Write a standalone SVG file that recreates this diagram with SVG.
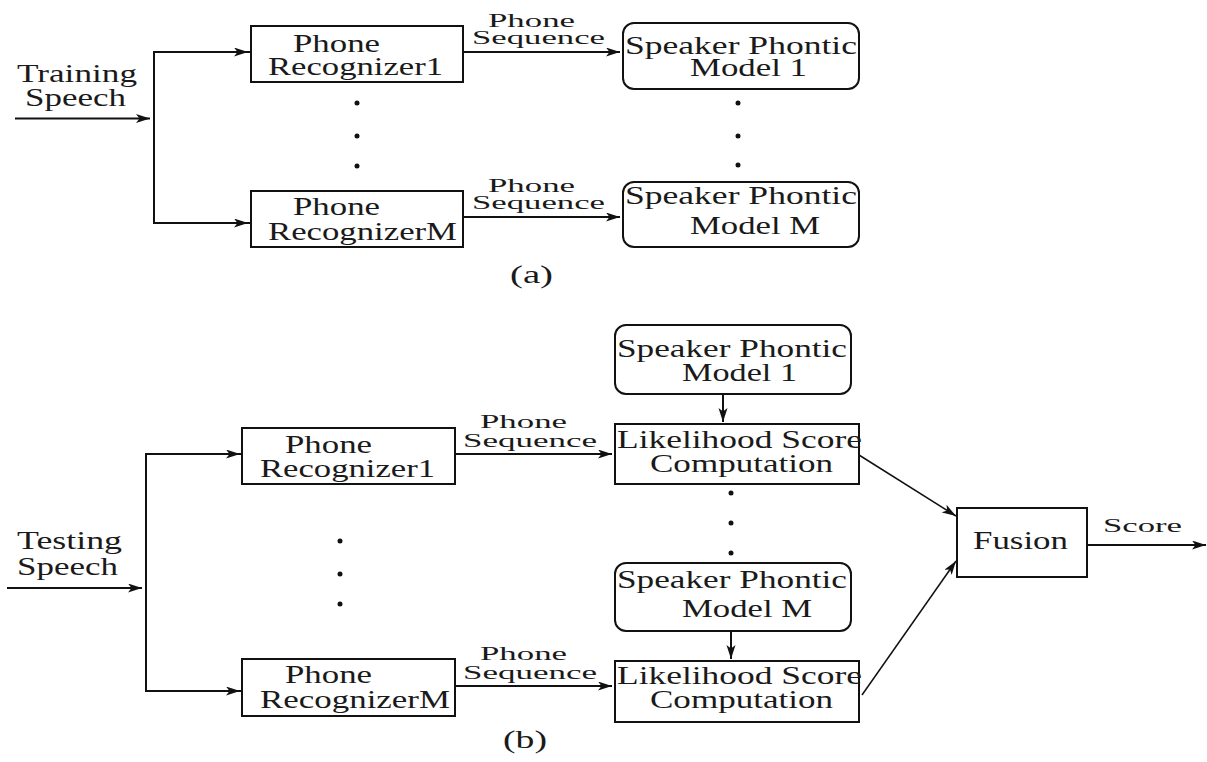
<svg xmlns="http://www.w3.org/2000/svg" width="1207" height="762" viewBox="0 0 1207 762">
<style>
text{font-family:"Liberation Serif","Times New Roman",serif;fill:#1a1a1a}
.b{font-size:25px}
.l{font-size:19px}
.box{fill:#fff;stroke:#111;stroke-width:2}
.ln{fill:none;stroke:#111;stroke-width:2}
.dg{fill:none;stroke:#111;stroke-width:1.5}
.dot{fill:#111}
</style>
<defs>
<marker id="ah" markerUnits="userSpaceOnUse" markerWidth="16" markerHeight="10" refX="14" refY="4.5" orient="auto">
<path d="M0,0 L14,4.5 L0,9 L3.5,4.5 z" fill="#111"/>
</marker>
</defs>
<rect width="1207" height="762" fill="#fff"/>

<g id="connectors">
<!-- (a) -->
<line class="ln" x1="15" y1="118.5" x2="150" y2="118.5" marker-end="url(#ah)"/>
<polyline class="ln" points="250,52 154,52 154,223 250,223"/>
<line class="ln" x1="154" y1="52" x2="248" y2="52" marker-end="url(#ah)"/>
<line class="ln" x1="154" y1="223" x2="248" y2="223" marker-end="url(#ah)"/>
<line class="ln" x1="463" y1="52" x2="620" y2="52" marker-end="url(#ah)"/>
<line class="ln" x1="463" y1="217" x2="620" y2="217" marker-end="url(#ah)"/>
<!-- (b) -->
<line class="ln" x1="7" y1="588" x2="142" y2="588" marker-end="url(#ah)"/>
<polyline class="ln" points="242,454 146,454 146,691 242,691"/>
<line class="ln" x1="146" y1="454" x2="240" y2="454" marker-end="url(#ah)"/>
<line class="ln" x1="146" y1="691" x2="240" y2="691" marker-end="url(#ah)"/>
<line class="ln" x1="455" y1="454" x2="612" y2="454" marker-end="url(#ah)"/>
<line class="ln" x1="455" y1="686" x2="612" y2="686" marker-end="url(#ah)"/>
<line class="ln" x1="723" y1="394" x2="723" y2="422" marker-end="url(#ah)"/>
<line class="ln" x1="731" y1="631" x2="731" y2="659" marker-end="url(#ah)"/>
<line class="dg" x1="859" y1="455" x2="956" y2="516" marker-end="url(#ah)"/>
<line class="dg" x1="862" y1="695" x2="956" y2="561" marker-end="url(#ah)"/>
<line class="ln" x1="1087" y1="545" x2="1206" y2="545" marker-end="url(#ah)"/>
</g>

<g id="training-label">
<text class="b" x="17" y="82" textLength="120" lengthAdjust="spacingAndGlyphs">Training</text>
<text class="b" x="25" y="106" textLength="101" lengthAdjust="spacingAndGlyphs">Speech</text>
</g>
<g id="a-pr1">
<rect class="box" x="251" y="26" width="212" height="56"/>
<text class="b" x="293" y="52" textLength="87" lengthAdjust="spacingAndGlyphs">Phone</text>
<text class="b" x="268" y="75" textLength="175" lengthAdjust="spacingAndGlyphs">Recognizer1</text>
</g>
<g id="a-prm">
<rect class="box" x="251" y="191" width="212" height="56"/>
<text class="b" x="293" y="215" textLength="87" lengthAdjust="spacingAndGlyphs">Phone</text>
<text class="b" x="268" y="240" textLength="189" lengthAdjust="spacingAndGlyphs">RecognizerM</text>
</g>
<g id="a-seq1">
<text class="l" x="488" y="27" textLength="87" lengthAdjust="spacingAndGlyphs">Phone</text>
<text class="l" x="472" y="44" textLength="133" lengthAdjust="spacingAndGlyphs">Sequence</text>
</g>
<g id="a-seqm">
<text class="l" x="488" y="192" textLength="87" lengthAdjust="spacingAndGlyphs">Phone</text>
<text class="l" x="472" y="209" textLength="133" lengthAdjust="spacingAndGlyphs">Sequence</text>
</g>
<g id="a-spm1">
<rect class="box" x="623" y="23" width="236" height="66" rx="11"/>
<text class="b" x="625" y="54" textLength="232" lengthAdjust="spacingAndGlyphs">Speaker Phontic</text>
<text class="b" x="690" y="76" textLength="117" lengthAdjust="spacingAndGlyphs">Model 1</text>
</g>
<g id="a-spmm">
<rect class="box" x="623" y="182" width="236" height="65" rx="11"/>
<text class="b" x="625" y="204" textLength="232" lengthAdjust="spacingAndGlyphs">Speaker Phontic</text>
<text class="b" x="690" y="234" textLength="130" lengthAdjust="spacingAndGlyphs">Model M</text>
</g>
<g id="a-dots">
<circle class="dot" cx="357" cy="103" r="2.5"/><circle class="dot" cx="357" cy="136" r="2.5"/><circle class="dot" cx="357" cy="166" r="2.5"/>
<circle class="dot" cx="738" cy="103" r="2.5"/><circle class="dot" cx="738" cy="136" r="2.5"/><circle class="dot" cx="738" cy="165" r="2.5"/>
</g>
<g id="caption-a"><text class="b" x="510" y="283" textLength="43" lengthAdjust="spacingAndGlyphs">(a)</text></g>

<g id="testing-label">
<text class="b" x="17" y="549" textLength="105" lengthAdjust="spacingAndGlyphs">Testing</text>
<text class="b" x="17" y="575" textLength="101" lengthAdjust="spacingAndGlyphs">Speech</text>
</g>
<g id="b-pr1">
<rect class="box" x="242" y="428" width="213" height="56"/>
<text class="b" x="285" y="453" textLength="87" lengthAdjust="spacingAndGlyphs">Phone</text>
<text class="b" x="260" y="477" textLength="175" lengthAdjust="spacingAndGlyphs">Recognizer1</text>
</g>
<g id="b-prm">
<rect class="box" x="242" y="659" width="213" height="57"/>
<text class="b" x="285" y="683" textLength="87" lengthAdjust="spacingAndGlyphs">Phone</text>
<text class="b" x="260" y="708" textLength="190" lengthAdjust="spacingAndGlyphs">RecognizerM</text>
</g>
<g id="b-seq1">
<text class="l" x="480" y="428" textLength="87" lengthAdjust="spacingAndGlyphs">Phone</text>
<text class="l" x="463" y="447" textLength="134" lengthAdjust="spacingAndGlyphs">Sequence</text>
</g>
<g id="b-seqm">
<text class="l" x="480" y="660" textLength="87" lengthAdjust="spacingAndGlyphs">Phone</text>
<text class="l" x="463" y="679" textLength="134" lengthAdjust="spacingAndGlyphs">Sequence</text>
</g>
<g id="b-spm1">
<rect class="box" x="615" y="325" width="236" height="69" rx="11"/>
<text class="b" x="617" y="357" textLength="230" lengthAdjust="spacingAndGlyphs">Speaker Phontic</text>
<text class="b" x="682" y="381" textLength="115" lengthAdjust="spacingAndGlyphs">Model 1</text>
</g>
<g id="b-lsc1">
<rect class="box" x="615" y="424" width="244" height="60"/>
<text class="b" x="617" y="448" textLength="245" lengthAdjust="spacingAndGlyphs">Likelihood Score</text>
<text class="b" x="650" y="472" textLength="183" lengthAdjust="spacingAndGlyphs">Computation</text>
</g>
<g id="b-spmm">
<rect class="box" x="615" y="563" width="236" height="68" rx="11"/>
<text class="b" x="617" y="588" textLength="230" lengthAdjust="spacingAndGlyphs">Speaker Phontic</text>
<text class="b" x="682" y="617" textLength="130" lengthAdjust="spacingAndGlyphs">Model M</text>
</g>
<g id="b-lscm">
<rect class="box" x="615" y="661" width="244" height="61"/>
<text class="b" x="617" y="684" textLength="245" lengthAdjust="spacingAndGlyphs">Likelihood Score</text>
<text class="b" x="650" y="708" textLength="183" lengthAdjust="spacingAndGlyphs">Computation</text>
</g>
<g id="b-dots">
<circle class="dot" cx="340" cy="541" r="2.5"/><circle class="dot" cx="340" cy="574" r="2.5"/><circle class="dot" cx="340" cy="604" r="2.5"/>
<circle class="dot" cx="731" cy="493" r="2.5"/><circle class="dot" cx="731" cy="523" r="2.5"/><circle class="dot" cx="731" cy="553" r="2.5"/>
</g>
<g id="fusion">
<rect class="box" x="957" y="508" width="130" height="69"/>
<text class="b" x="973" y="549" textLength="95" lengthAdjust="spacingAndGlyphs">Fusion</text>
</g>
<g id="score-label"><text class="l" x="1103" y="532" textLength="79" lengthAdjust="spacingAndGlyphs">Score</text></g>
<g id="caption-b"><text class="b" x="503" y="748" textLength="44" lengthAdjust="spacingAndGlyphs">(b)</text></g>
</svg>
